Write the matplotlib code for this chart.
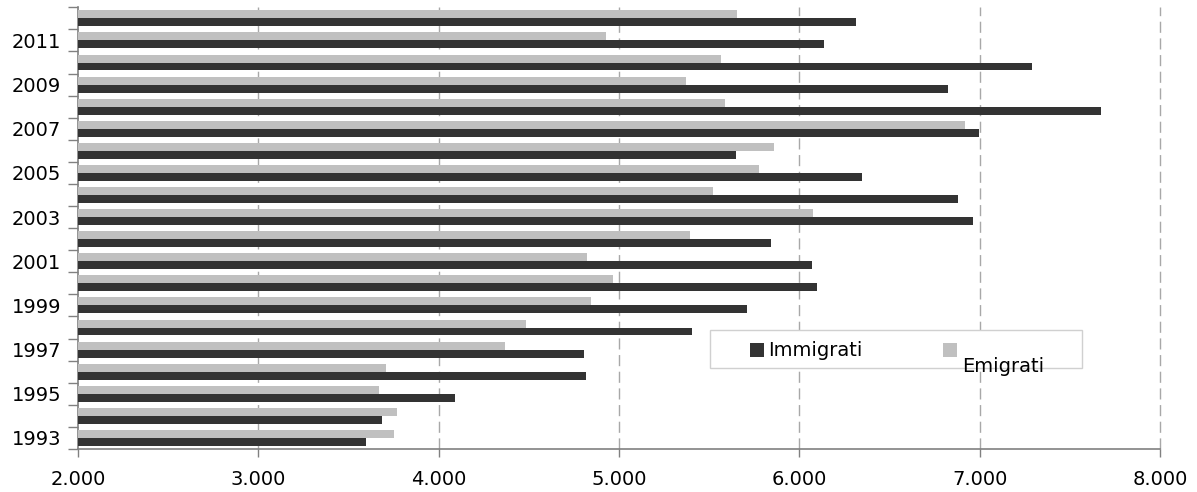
import matplotlib
matplotlib.use("Agg")
import matplotlib.pyplot as plt
from matplotlib.patches import Rectangle
from matplotlib.ticker import FuncFormatter, FixedLocator
import numpy as np

years = list(range(1993, 2013))
immigrati = [3597, 3686, 4091, 4817, 4806, 5405, 5710, 6098, 6070, 5843,
             6963, 6880, 6348, 5649, 6996, 7673, 6824, 7290, 6137, 6314]
emigrati = [3752, 3769, 3669, 3708, 4368, 4484, 4845, 4967, 4823, 5394,
            6076, 5521, 5776, 5860, 6919, 5588, 5372, 5566, 4928, 5654]
series_names = ["Immigrati", "Emigrati"]
series_colors = ["#333333", "#c0c0c0"]
x_ticks = [2000, 3000, 4000, 5000, 6000, 7000, 8000]

W, H = 1197, 492
fig = plt.figure(figsize=(W / 100, H / 100), dpi=100)
ax = fig.add_axes([78 / W, 1 - 449 / H, (1160 - 78) / W, (449 - 7.3) / H])

y = np.arange(len(years))
bh = 0.36
base = 2000
ax.barh(y - bh / 2, np.array(immigrati) - base, left=base, height=bh,
        color=series_colors[0], zorder=3)
ax.barh(y + bh / 2, np.array(emigrati) - base, left=base, height=bh,
        color=series_colors[1], zorder=3)

ax.set_xlim(2000, 8000)
ax.set_ylim(-0.5, len(years) - 0.5)

ax.set_xticks(x_ticks)
ax.xaxis.set_major_formatter(FuncFormatter(lambda v, p: f"{int(v):,}".replace(",", ".")))
for xv in x_ticks[1:]:
    ax.axvline(xv, color="#a8a8a8", lw=1.0, ls=(0, (8, 4)), zorder=1, clip_on=False)

label_idx = [i for i, yr in enumerate(years) if yr % 2 == 1]
ax.yaxis.set_major_locator(FixedLocator(label_idx))
ax.set_yticklabels([str(years[i]) for i in label_idx])
ax.yaxis.set_minor_locator(FixedLocator(np.arange(len(years) + 1) - 0.5))
ax.tick_params(axis="y", which="major", length=0, pad=12, labelsize=14, labelcolor="black")
ax.tick_params(axis="y", which="minor", length=7, width=1, color="#808080")
ax.tick_params(axis="x", which="major", length=6, width=1, color="#808080",
               labelsize=14, pad=9, labelcolor="black")

for s in ["top", "right"]:
    ax.spines[s].set_visible(False)
for s in ["left", "bottom"]:
    ax.spines[s].set_color("#808080")
    ax.spines[s].set_linewidth(1.2)

# legend (drawn as in the original, Emigrati label offset downward)
def fx(px):
    return px / W
def fy(py):
    return 1 - py / H

fig.patches.append(Rectangle((fx(710), fy(368)), fx(1082) - fx(710), fy(330) - fy(368),
                             transform=fig.transFigure, facecolor="white",
                             edgecolor="#d0d0d0", lw=1, zorder=5))
fig.patches.append(Rectangle((fx(750), fy(357)), 14 / W, 14 / H, transform=fig.transFigure,
                             facecolor=series_colors[0], edgecolor="none", zorder=6))
fig.patches.append(Rectangle((fx(943), fy(357)), 14 / W, 14 / H, transform=fig.transFigure,
                             facecolor=series_colors[1], edgecolor="none", zorder=6))
fig.text(fx(768), fy(350), series_names[0], fontsize=14, va="center", ha="left", zorder=7)
fig.text(fx(962), fy(366), series_names[1], fontsize=14, va="center", ha="left", zorder=7)

fig.savefig("out.png", dpi=100)
